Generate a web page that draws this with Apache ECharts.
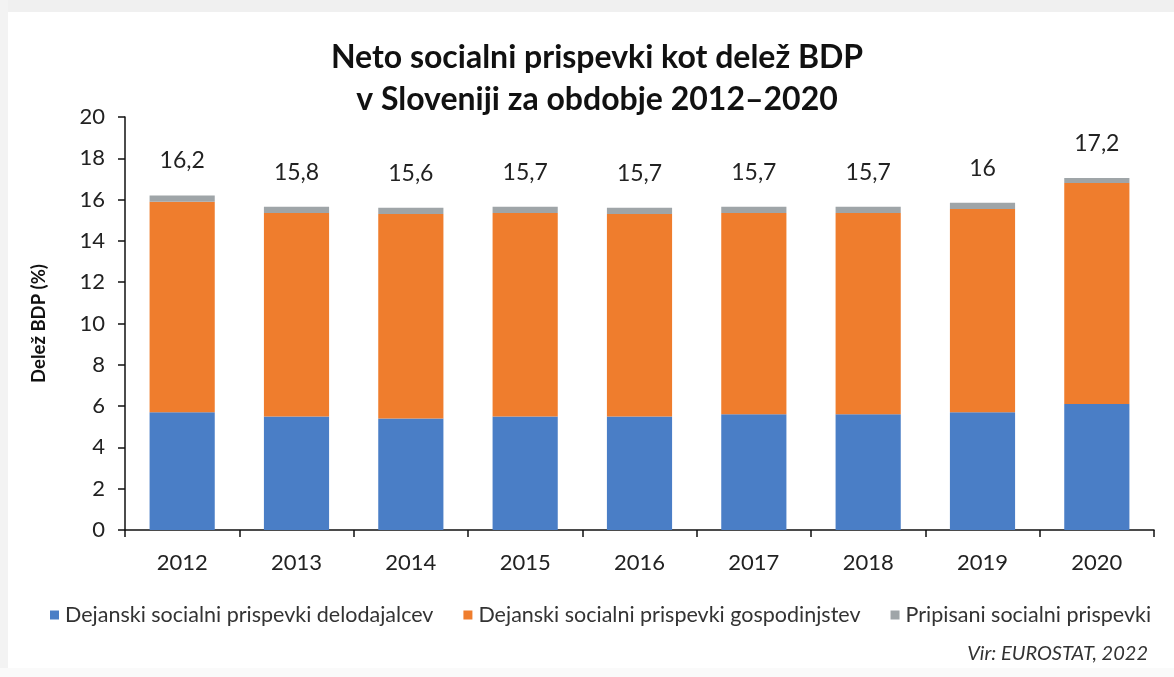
<!DOCTYPE html>
<html>
<head>
<meta charset="utf-8">
<script src="https://cdn.jsdelivr.net/npm/echarts@6/dist/echarts.min.js"></script>
<style>
  html, body { margin: 0; padding: 0; background: #fff; }
  #chart { width: 1174px; height: 677px; }
</style>
</head>
<body>
<div id="chart"></div>
<script>
// podatki, odčitani s slike
var years = ['2012', '2013', '2014', '2015', '2016', '2017', '2018', '2019', '2020'];
var delodajalci = [5.7, 5.5, 5.4, 5.5, 5.5, 5.6, 5.6, 5.7, 6.1];
var gospodinjstva = [10.2, 9.85, 9.9, 9.85, 9.8, 9.75, 9.75, 9.85, 10.7];
var pripisani = [0.3, 0.3, 0.3, 0.3, 0.3, 0.3, 0.3, 0.3, 0.25];
var skupaj = [16.2, 15.8, 15.6, 15.7, 15.7, 15.7, 15.7, 16, 17.2];

var font = 'Lato, "Open Sans", sans-serif';
var chart = echarts.init(document.getElementById('chart'));

var option = {
  backgroundColor: '#fff',
  textStyle: { fontFamily: font },
  title: {
    text: 'Neto socialni prispevki kot delež BDP\nv Sloveniji za obdobje 2012–2020',
    left: 592,
    textAlign: 'center',
    top: 32,
    textStyle: { fontSize: 32, fontWeight: 'bold', color: '#111', lineHeight: 42, fontFamily: font }
  },
  graphic: [
    { type: 'rect', shape: { x: 0, y: 0, width: 1174, height: 12 }, style: { fill: '#f0f0f0' }, z: 0 },
    { type: 'rect', shape: { x: 0, y: 0, width: 8, height: 677 }, style: { fill: '#f3f3f3' }, z: 0 },
    { type: 'rect', shape: { x: 0, y: 668, width: 1174, height: 9 }, style: { fill: '#fafafa' }, z: 0 },
    {
      type: 'text', right: 26, top: 644,
      style: { text: 'Vir: EUROSTAT, 2022', font: 'italic 20px ' + font, fill: '#333' }
    }
  ],
  legend: {
    left: 45,
    top: 599,
    itemWidth: 9,
    itemHeight: 9,
    itemGap: 30,
    icon: 'rect',
    textStyle: { fontSize: 21.5, color: '#333', fontFamily: font, padding: [0, 0, 0, 1] },
    data: ['Dejanski socialni prispevki delodajalcev', 'Dejanski socialni prispevki gospodinjstev', 'Pripisani socialni prispevki']
  },
  grid: { left: 125, right: 20, top: 117, bottom: 147 },
  xAxis: {
    type: 'category',
    data: years,
    axisLine: { lineStyle: { color: '#111', width: 1.5 } },
    axisTick: { show: true, inside: false, length: 7, lineStyle: { color: '#111', width: 1.5 } },
    axisLabel: { fontSize: 22, color: '#222', margin: 22, fontFamily: font }
  },
  yAxis: {
    type: 'value',
    min: 0,
    max: 20,
    interval: 2,
    name: 'Delež BDP (%)',
    nameLocation: 'middle',
    nameGap: 76,
    nameRotate: 90,
    nameTextStyle: { fontSize: 18.5, fontWeight: 'bold', color: '#111', fontFamily: font },
    axisLine: { show: true, lineStyle: { color: '#111', width: 1.5 } },
    axisTick: { show: true, inside: false, length: 7, lineStyle: { color: '#111', width: 1.5 } },
    splitLine: { show: false },
    axisLabel: { fontSize: 22, color: '#222', margin: 20, fontFamily: font }
  },
  series: [
    {
      name: 'Dejanski socialni prispevki delodajalcev',
      type: 'bar', stack: 'a', barWidth: '57%',
      itemStyle: { color: '#4a7ec6' },
      data: delodajalci
    },
    {
      name: 'Dejanski socialni prispevki gospodinjstev',
      type: 'bar', stack: 'a',
      itemStyle: { color: '#ef7d2d' },
      data: gospodinjstva
    },
    {
      name: 'Pripisani socialni prispevki',
      type: 'bar', stack: 'a',
      itemStyle: { color: '#9fa5a8' },
      label: {
        show: true,
        position: 'top',
        distance: 23,
        fontSize: 23,
        color: '#222',
        fontFamily: font,
        formatter: function (p) {
          return String(skupaj[p.dataIndex]).replace('.', ',');
        }
      },
      data: pripisani
    }
  ]
};

chart.setOption(option);
</script>
</body>
</html>
